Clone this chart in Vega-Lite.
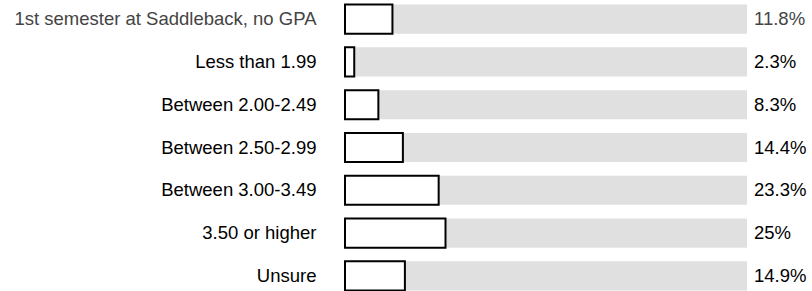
{
  "$schema": "https://vega.github.io/schema/vega-lite/v6.json",
  "width": 402,
  "height": 291,
  "padding": {"left": 345, "top": 2, "right": 65, "bottom": 0},
  "autosize": {"type": "none"},
  "background": "white",
  "config": {"view": {"stroke": null}, "font": "Liberation Sans"},
  "data": {"values": [
    {"label": "1st semester at Saddleback, no GPA", "pct": 11.8},
    {"label": "Less than 1.99", "pct": 2.3},
    {"label": "Between 2.00-2.49", "pct": 8.3},
    {"label": "Between 2.50-2.99", "pct": 14.4},
    {"label": "Between 3.00-3.49", "pct": 23.3},
    {"label": "3.50 or higher", "pct": 25},
    {"label": "Unsure", "pct": 14.9}
  ]},
  "transform": [{"calculate": "datum.pct + '%'", "as": "txt"}],
  "encoding": {
    "y": {
      "field": "label", "type": "nominal", "sort": null,
      "scale": {"paddingInner": 0.32, "paddingOuter": 0.06},
      "axis": {"title": null, "domain": false, "ticks": false, "labelPadding": 29,
               "labelFontSize": 18.5, "labelFont": "Liberation Sans", "labelLimit": 400,
               "labelColor": {"condition": {"test": "datum.value == '1st semester at Saddleback, no GPA'", "value": "#444"}, "value": "#000"}}
    }
  },
  "layer": [
    {
      "mark": {"type": "bar", "color": "#e0e0e0"},
      "encoding": {"x": {"datum": 100, "type": "quantitative", "scale": {"domain": [0, 100]}, "axis": null}}
    },
    {
      "mark": {"type": "bar", "fill": "white", "stroke": "black", "strokeWidth": 2},
      "encoding": {"x": {"field": "pct", "type": "quantitative", "scale": {"domain": [0, 100]}, "axis": null}}
    },
    {
      "mark": {"type": "text", "align": "left", "dx": 7, "fontSize": 18.5, "font": "Liberation Sans"},
      "encoding": {
        "x": {"datum": 100, "type": "quantitative"},
        "text": {"field": "txt"},
        "color": {"condition": {"test": "datum.label == '1st semester at Saddleback, no GPA'", "value": "#444"}, "value": "#000"}
      }
    }
  ]
}
